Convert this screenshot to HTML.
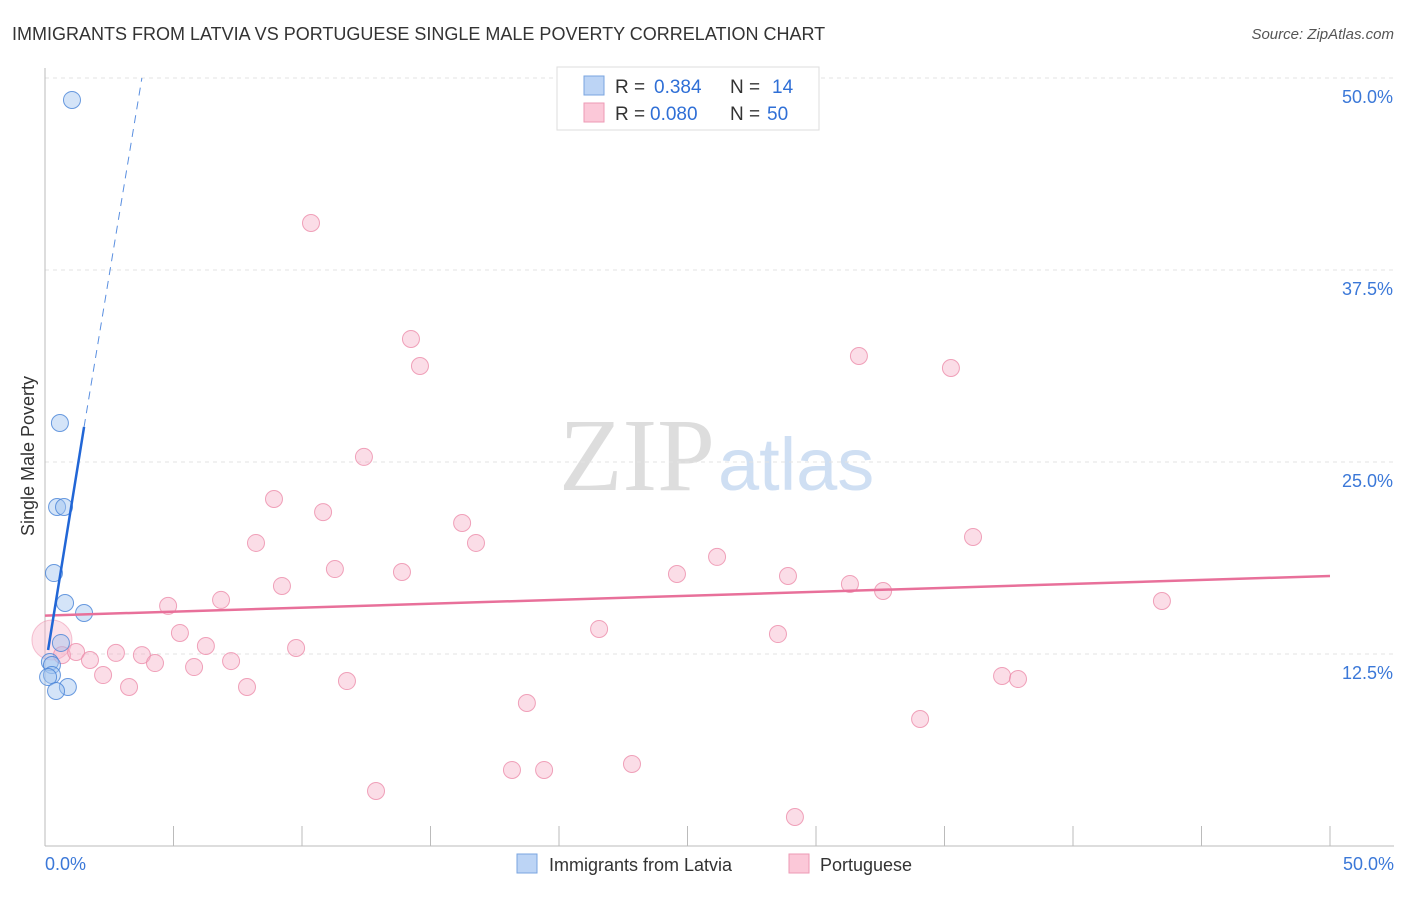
<!DOCTYPE html>
<html><head><meta charset="utf-8"><style>
body{margin:0;background:#fff;font-family:"Liberation Sans",sans-serif}
</style></head><body>
<svg id="c" width="1406" height="892" xmlns="http://www.w3.org/2000/svg">
<text x="12" y="40" font-size="18" fill="#333">IMMIGRANTS FROM LATVIA VS PORTUGUESE SINGLE MALE POVERTY CORRELATION CHART</text>
<text x="1394" y="39" font-size="15" fill="#555" font-style="italic" text-anchor="end">Source: ZipAtlas.com</text>
<text x="715" y="490" font-size="104" fill="#ddd" text-anchor="end" font-family="Liberation Serif">ZIP</text>
<text x="718" y="490" font-size="74" fill="#cfdff3">atlas</text>
<g id="grid"></g><g id="axes"></g><g id="pts"></g><g id="lines"></g>
<g font-size="19">
<rect x="557" y="67" width="262" height="63" fill="#fff" stroke="#ddd"/>
<rect x="584" y="76" width="20" height="19" fill="#bcd4f5" stroke="#7aa5e0"/>
<rect x="584" y="103" width="20" height="19" fill="#fbc8d8" stroke="#ee9ab5"/>
<text x="615" y="93" fill="#333">R =</text><text x="654" y="93" fill="#2f6fd6">0.384</text>
<text x="730" y="93" fill="#333">N =</text><text x="772" y="93" fill="#2f6fd6">14</text>
<text x="615" y="120" fill="#333">R =</text><text x="650" y="120" fill="#2f6fd6">0.080</text>
<text x="730" y="120" fill="#333">N =</text><text x="767" y="120" fill="#2f6fd6">50</text>
</g>
<g>
<rect x="517" y="854" width="20" height="19" fill="#bcd4f5" stroke="#7aa5e0"/>
<text x="549" y="871" font-size="18" fill="#333">Immigrants from Latvia</text>
<rect x="789" y="854" width="20" height="19" fill="#fbc8d8" stroke="#ee9ab5"/>
<text x="820" y="871" font-size="18" fill="#333">Portuguese</text>
</g>
<text transform="translate(34,456) rotate(-90)" font-size="18" fill="#333" text-anchor="middle">Single Male Poverty</text>
</svg>
<script>
const blueX=[1.05,0.58,0.47,0.74,0.35,0.78,1.52,0.62,0.19,0.27,0.27,0.12,0.89,0.43];
const blueY=[48.57,27.54,22.07,22.07,17.77,15.82,15.17,13.22,11.98,11.78,11.13,11.00,10.35,10.09];
const pinkX=[10.35,14.24,14.59,31.67,35.25,12.41,8.91,10.82,16.23,16.77,36.11,8.21,26.15,11.28,13.89,24.59,28.91,9.22,31.32,32.61,6.85,4.79,43.46,21.56,5.25,28.52,6.26,9.77,0.66,1.21,2.76,3.77,1.75,4.28,5.80,7.24,2.26,37.24,37.86,11.75,3.27,7.86,18.75,34.05,22.84,18.17,19.42,12.88,29.18];
const pinkY=[40.56,33.01,31.25,31.90,31.12,25.33,22.59,21.74,21.03,19.73,20.12,19.73,18.82,18.03,17.84,17.71,17.58,16.93,17.06,16.60,16.02,15.63,15.95,14.13,13.87,13.80,13.02,12.89,12.43,12.63,12.57,12.43,12.11,11.91,11.65,12.04,11.13,11.07,10.87,10.74,10.35,10.35,9.31,8.27,5.34,4.95,4.95,3.58,1.89];
const yTicks=[12.5,25,37.5,50];
const yTickLabels=["12.5%","25.0%","37.5%","50.0%"];
const pinkFit=[15.0,17.58];
const blueFit=[[0.12,12.76],[1.52,27.28],[3.77,50]];
const NS="http://www.w3.org/2000/svg";
const sx=v=>45+v*25.7, sy=v=>846-v*15.36;
function mk(t,a,p){const e=document.createElementNS(NS,t);for(const k in a)e.setAttribute(k,a[k]);p.appendChild(e);return e;}
const grid=document.getElementById('grid'),axes=document.getElementById('axes'),pts=document.getElementById('pts'),lines=document.getElementById('lines');
yTicks.forEach((t,i)=>{
 const g=mk('line',{x1:45,x2:1394,y1:sy(t),y2:sy(t),stroke:'#e3e3e3','stroke-dasharray':'4,4'},grid);
 
 
 const l=mk('text',{x:1393,y:sy(t)+25,'font-size':18,fill:'#3b78d8','text-anchor':'end'},axes);
 l.textContent=yTickLabels[i];
 
 
});
let a=mk('line',{x1:45,x2:45,y1:68,y2:846,stroke:'#bbb'},axes);


a=mk('line',{x1:45,x2:1394,y1:846,y2:846,stroke:'#bbb'},axes);


for(let i=1;i<=10;i++){const t=mk('line',{x1:sx(i*5),x2:sx(i*5),y1:826,y2:846,stroke:'#bbb'},axes);
 
 }
[[0,'0.0%','start',45],[50,'50.0%','end',1394]].forEach(d=>{const l=mk('text',{x:d[3],y:870,'font-size':18,fill:'#3b78d8','text-anchor':d[2]},axes);l.textContent=d[1];
 
 });
let big=mk('circle',{cx:sx(0.27),cy:sy(13.41),r:20,fill:'rgba(246,170,195,0.35)',stroke:'rgba(236,140,170,0.5)'},pts);


pinkX.forEach((x,i)=>{const c=mk('circle',{cx:sx(x),cy:sy(pinkY[i]),r:8.5,fill:'rgba(246,170,195,0.4)',stroke:'rgba(236,140,170,0.8)'},pts);
 
 });
blueX.forEach((x,i)=>{const c=mk('circle',{cx:sx(x),cy:sy(blueY[i]),r:8.5,fill:'rgba(160,195,240,0.45)',stroke:'rgba(70,130,215,0.8)'},pts);
 
 });
let p=mk('line',{x1:sx(0),y1:sy(pinkFit[0]),x2:sx(50),y2:sy(pinkFit[1]),stroke:'#e8709a','stroke-width':2.5},lines);


let b=mk('line',{x1:sx(blueFit[0][0]),y1:sy(blueFit[0][1]),x2:sx(blueFit[1][0]),y2:sy(blueFit[1][1]),stroke:'#2166d6','stroke-width':2.5},lines);


b=mk('line',{x1:sx(blueFit[1][0]),y1:sy(blueFit[1][1]),x2:sx(blueFit[2][0]),y2:sy(blueFit[2][1]),stroke:'#5a8fe0','stroke-width':1,'stroke-dasharray':'8,6'},lines);


</script>
</body></html>
